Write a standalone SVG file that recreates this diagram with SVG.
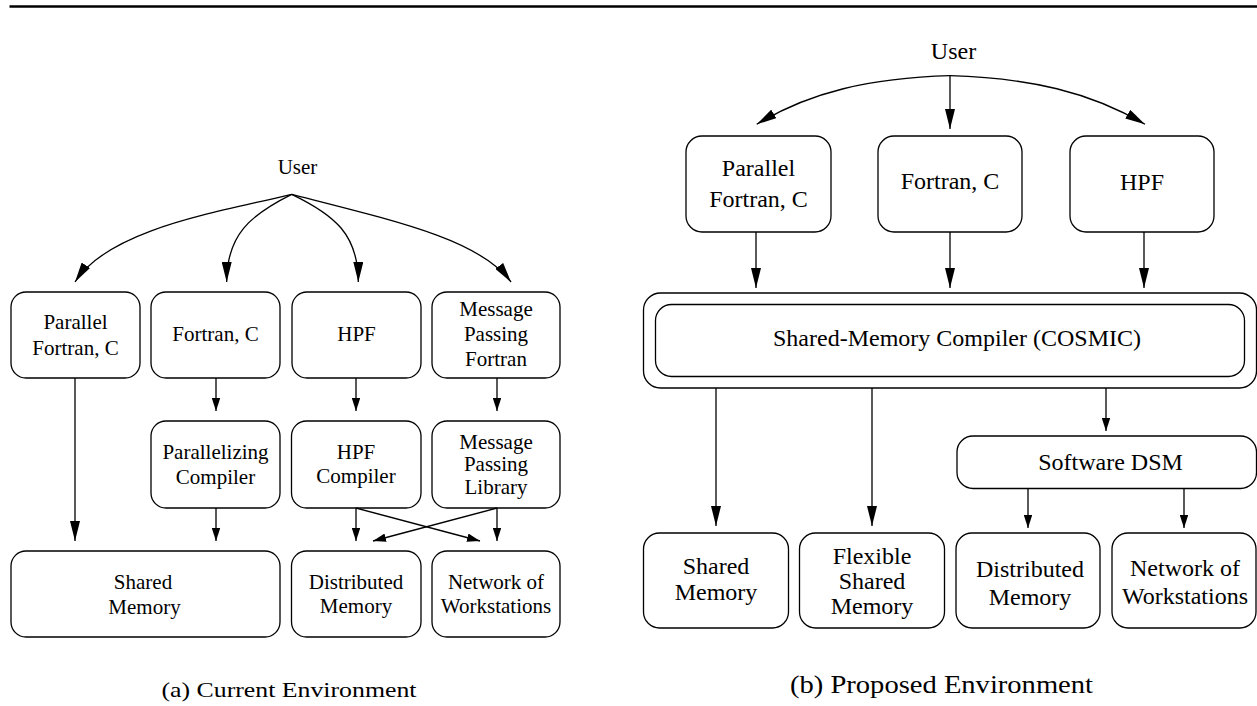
<svg xmlns="http://www.w3.org/2000/svg" width="1257" height="706" viewBox="0 0 1257 706">
  <defs>
    <style>
      .box { fill: #fff; stroke: #000; stroke-width: 1.3; }
      .lbl { font-size: 21px; fill: #000; text-anchor: middle; }
      .lbl-b { font-size: 24px; fill: #000; text-anchor: middle; }
      .cap { fill: #000; }
      .edge { fill: none; stroke: #000; stroke-width: 1.3; }
      .big { marker-end: url(#headBig); }
      .small { marker-end: url(#headSmall); }
    </style>
    <marker id="headBig" markerUnits="userSpaceOnUse" markerWidth="20" markerHeight="10" refX="20" refY="5" orient="auto">
      <path d="M0,0 L20,5 L0,10 z" fill="#000"/>
    </marker>
    <marker id="headSmall" markerUnits="userSpaceOnUse" markerWidth="13" markerHeight="8.5" refX="13" refY="4.25" orient="auto">
      <path d="M0,0 L13,4.25 L0,8.5 z" fill="#000"/>
    </marker>
  </defs>

  <rect width="1257" height="706" fill="#fff"/>

  <!-- page rule -->
  <line x1="9.5" y1="6.5" x2="1257" y2="6.5" stroke="#000" stroke-width="2.5"/>

  <g font-family="Liberation Serif, DejaVu Serif, Noto Serif, serif">
  <!-- ===== (a) current environment ===== -->
  <g id="a-user"><text class="lbl" x="297.5" y="174">User</text></g>

  <g id="a-parallel-fortran">
    <rect class="box" x="11" y="292" width="129" height="86" rx="15"/>
    <text class="lbl" x="75.5" y="328.5">Parallel</text>
    <text class="lbl" x="75.5" y="355">Fortran, C</text>
  </g>
  <g id="a-fortran-c">
    <rect class="box" x="151" y="292" width="129" height="86" rx="15"/>
    <text class="lbl" x="215.5" y="341">Fortran, C</text>
  </g>
  <g id="a-hpf">
    <rect class="box" x="292" y="292" width="129" height="86" rx="15"/>
    <text class="lbl" x="356.5" y="341">HPF</text>
  </g>
  <g id="a-mp-fortran">
    <rect class="box" x="432" y="292" width="128" height="86" rx="15"/>
    <text class="lbl" x="496" y="316">Message</text>
    <text class="lbl" x="496" y="341">Passing</text>
    <text class="lbl" x="496" y="365.5">Fortran</text>
  </g>

  <g id="a-par-compiler">
    <rect class="box" x="151" y="421" width="129" height="87" rx="15"/>
    <text class="lbl" x="215.5" y="459">Parallelizing</text>
    <text class="lbl" x="215.5" y="483.5">Compiler</text>
  </g>
  <g id="a-hpf-compiler">
    <rect class="box" x="291.5" y="421" width="129.5" height="87" rx="15"/>
    <text class="lbl" x="356" y="459">HPF</text>
    <text class="lbl" x="356" y="483">Compiler</text>
  </g>
  <g id="a-mp-library">
    <rect class="box" x="432" y="421" width="128" height="87" rx="15"/>
    <text class="lbl" x="496" y="448.5">Message</text>
    <text class="lbl" x="496" y="471">Passing</text>
    <text class="lbl" x="496" y="494">Library</text>
  </g>

  <g id="a-shared-memory">
    <rect class="box" x="11" y="551" width="269" height="86" rx="15"/>
    <text class="lbl" x="143" y="589">Shared</text>
    <text class="lbl" x="144.5" y="613.5">Memory</text>
  </g>
  <g id="a-distributed-memory">
    <rect class="box" x="291.5" y="551" width="129.5" height="86" rx="15"/>
    <text class="lbl" x="356" y="588.5">Distributed</text>
    <text class="lbl" x="356" y="612.5">Memory</text>
  </g>
  <g id="a-now">
    <rect class="box" x="432" y="551" width="128" height="86" rx="15"/>
    <text class="lbl" x="496" y="588.5">Network of</text>
    <text class="lbl" x="496" y="612.5">Workstations</text>
  </g>

  <!-- ===== (b) proposed environment ===== -->
  <g id="b-user"><text class="lbl-b" x="953.5" y="59">User</text></g>

  <g id="b-parallel-fortran">
    <rect class="box" x="686" y="136" width="145" height="96" rx="16"/>
    <text class="lbl-b" x="758.5" y="176">Parallel</text>
    <text class="lbl-b" x="758.5" y="207">Fortran, C</text>
  </g>
  <g id="b-fortran-c">
    <rect class="box" x="878" y="136" width="144" height="96" rx="16"/>
    <text class="lbl-b" x="950" y="188.5">Fortran, C</text>
  </g>
  <g id="b-hpf">
    <rect class="box" x="1070" y="136" width="144" height="96" rx="16"/>
    <text class="lbl-b" x="1142" y="190">HPF</text>
  </g>

  <g id="b-cosmic">
    <rect class="box" x="643.5" y="293" width="613" height="95" rx="17"/>
    <rect class="box" x="655.5" y="304.5" width="589" height="72" rx="16"/>
    <text class="lbl-b" x="957" y="346">Shared-Memory Compiler (COSMIC)</text>
  </g>

  <g id="b-software-dsm">
    <rect class="box" x="957" y="436" width="299.5" height="52.5" rx="16"/>
    <text class="lbl-b" x="1110.5" y="469.5">Software DSM</text>
  </g>

  <g id="b-shared-memory">
    <rect class="box" x="643.5" y="533" width="145" height="95" rx="16"/>
    <text class="lbl-b" x="716" y="573.5">Shared</text>
    <text class="lbl-b" x="716" y="600">Memory</text>
  </g>
  <g id="b-flexible-shared-memory">
    <rect class="box" x="799.5" y="533" width="145" height="95" rx="16"/>
    <text class="lbl-b" x="872" y="563.5">Flexible</text>
    <text class="lbl-b" x="872" y="588.5">Shared</text>
    <text class="lbl-b" x="872" y="613.5">Memory</text>
  </g>
  <g id="b-distributed-memory">
    <rect class="box" x="956" y="533" width="144" height="95" rx="16"/>
    <text class="lbl-b" x="1030" y="577">Distributed</text>
    <text class="lbl-b" x="1030" y="605">Memory</text>
  </g>
  <g id="b-now">
    <rect class="box" x="1112" y="533" width="144" height="95" rx="16"/>
    <text class="lbl-b" x="1185" y="576">Network of</text>
    <text class="lbl-b" x="1185" y="604">Workstations</text>
  </g>

  <!-- captions -->
  <text class="cap" x="161.5" y="697" font-size="22" textLength="255" lengthAdjust="spacingAndGlyphs">(a) Current Environment</text>
  <text class="cap" x="790" y="692.5" font-size="25" textLength="303" lengthAdjust="spacingAndGlyphs">(b) Proposed Environment</text>
  </g>

  <!-- connectors -->
  <g id="connectors">
    <!-- (a) -->
    <path class="edge big" d="M291.7,194.3 C220,212 110,228 75,282"/>
    <path class="edge big" d="M291.7,194.3 C250,215 226.7,235 226.7,282"/>
    <path class="edge big" d="M291.7,194.3 C335,215 358.3,235 358.3,282"/>
    <path class="edge big" d="M291.7,194.3 C400,222 480,240 511,282"/>
    <path class="edge big" d="M75,378 L75,541"/>
    <path class="edge small" d="M216,378 L216,411"/>
    <path class="edge small" d="M356,378 L356,411"/>
    <path class="edge small" d="M497,378 L497,411"/>
    <path class="edge small" d="M216,508 L216,541"/>
    <path class="edge small" d="M356,508 L356,541"/>
    <path class="edge small" d="M356,508 L480,541"/>
    <path class="edge small" d="M497,508 L497,541"/>
    <path class="edge small" d="M497,508 L373,541"/>
    <!-- (b) -->
    <path class="edge big" d="M950,75.7 C870,78 810,92 756.7,124.3"/>
    <path class="edge big" d="M950,75.7 L950,129"/>
    <path class="edge big" d="M950,75.7 C1030,78 1090,92 1145,124.3"/>
    <path class="edge big" d="M756,232 L756,288"/>
    <path class="edge big" d="M950,232 L950,288"/>
    <path class="edge big" d="M1144,232 L1144,288"/>
    <path class="edge big" d="M716,388 L716,526"/>
    <path class="edge big" d="M872,388 L872,526"/>
    <path class="edge small" d="M1106,388 L1106,431"/>
    <path class="edge small" d="M1028,488.5 L1028,528"/>
    <path class="edge small" d="M1184,488.5 L1184,528"/>
  </g>
</svg>
